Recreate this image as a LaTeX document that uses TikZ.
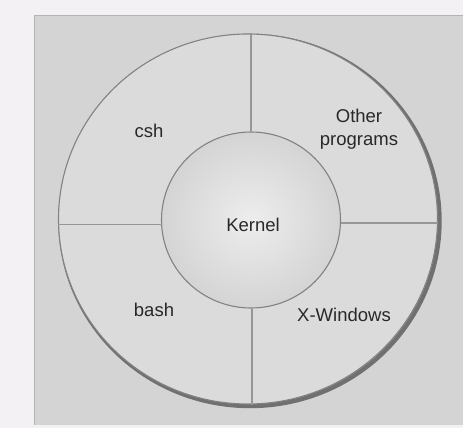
\documentclass[tikz,border=0pt]{standalone}
\usepackage{fontspec}
\setmainfont{Liberation Sans}
\usetikzlibrary{shapes.geometric}
\definecolor{pagebg}{RGB}{243,241,243}
\definecolor{boxbg}{RGB}{213,212,213}
\definecolor{ringbg}{RGB}{220,219,220}
\definecolor{kernout}{RGB}{213,212,213}
\definecolor{kernin}{RGB}{238,237,238}
\definecolor{edge}{RGB}{130,130,130}
\definecolor{shadowgray}{RGB}{112,112,112}
\definecolor{divider}{RGB}{150,150,150}
\definecolor{ink}{RGB}{40,40,40}
\tikzset{
  lbl/.style={font=\fontsize{18.5}{23}\selectfont, text=ink, align=center, inner sep=0pt},
  divline/.style={draw=divider, line width=1.2pt},
  disc/.style={ellipse, inner sep=0pt, draw=edge, line width=1.1pt},
}
\begin{document}
\begin{tikzpicture}[x=1pt,y=-1pt]
\useasboundingbox (0,0) rectangle (463,428);
\fill[pagebg] (0,0) rectangle (463,428);
\fill[boxbg] (34,15) rectangle (463,425);
\draw[edge!60, line width=0.8pt] (34,425) -- (34,15) -- (463,15);
% shadow of the outer ring
\draw[draw=shadowgray, line width=4.4pt] (250,221) ellipse [x radius=189.5, y radius=185];
% outer ring
\node[disc, fill=ringbg, minimum width=379pt, minimum height=370pt] (outer) at (248,219) {};
% kernel
\node[disc, shading=radial, inner color=kernin, outer color=kernout,
      minimum width=179pt, minimum height=176pt] (inner) at (251,220) {};
% dividers
\coordinate (hl) at (162,224.5);
\coordinate (hr) at (340.5,223);
\draw[divline] (inner.north) -- (inner.north |- outer.north);
\draw[divline] ([xshift=1pt]inner.south) -- ([xshift=1pt]inner.south |- outer.south);
\draw[divline] (hl) -- (hl -| outer.west);
\draw[divline] (hr) -- (hr -| outer.east);
% labels
\node[lbl] (kernel) at (253,225) {Kernel};
\node[lbl] (csh) at (149,131) {csh};
\node[lbl] (other) at (359,129) {Other\\programs};
\node[lbl] (bash) at (154,310) {bash};
\node[lbl] (xwin) at (344,315) {X-Windows};
\end{tikzpicture}
\end{document}
